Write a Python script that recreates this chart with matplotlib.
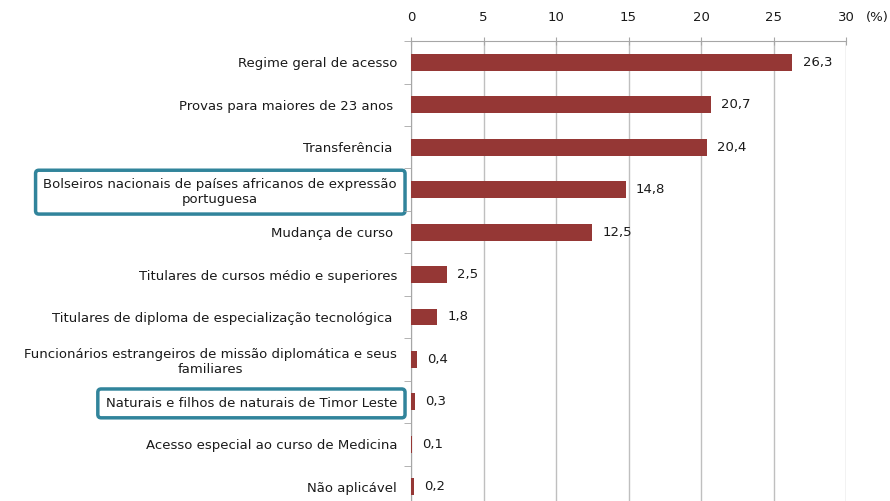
import numpy as np
import matplotlib.pyplot as plt

categories = [
    "Regime geral de acesso",
    "Provas para maiores de 23 anos ",
    "Transferência ",
    "Bolseiros nacionais de países africanos de expressão\nportuguesa",
    "Mudança de curso ",
    "Titulares de cursos médio e superiores",
    "Titulares de diploma de especialização tecnológica ",
    "Funcionários estrangeiros de missão diplomática e seus\nfamiliares",
    "Naturais e filhos de naturais de Timor Leste",
    "Acesso especial ao curso de Medicina",
    "Não aplicável",
]
values = [26.3, 20.7, 20.4, 14.8, 12.5, 2.5, 1.8, 0.4, 0.3, 0.1, 0.2]
highlighted = [3, 8]

bar_color = "#953735"
grid_color = "#BFBFBF"
box_color = "#31849B"

plt.rcParams["font.family"] = ["DejaVu Sans"]

fig = plt.figure(figsize=(8.9, 5.01), dpi=100)
ax = fig.add_axes([0.4618, -0.014, 0.4888, 0.932])

y = np.arange(len(categories))
ax.barh(y, values, height=0.4, color=bar_color, zorder=3)
for yi, v in zip(y, values):
    ax.text(v + 0.7, yi, f"{v:.1f}".replace(".", ","), va="center", ha="left",
            fontsize=9.5, color="#1a1a1a")

ax.set_xlim(0, 30)
ax.set_ylim(len(categories) - 0.5, -0.5)
ax.set_xticks(np.arange(0, 31, 5))
ax.xaxis.tick_top()
ax.tick_params(axis="x", direction="inout", length=6, color="#A6A6A6",
               labelsize=9.5, labelcolor="#1a1a1a", pad=9)
ax.grid(axis="x", color=grid_color, linewidth=1, zorder=0)

ax.set_yticks(y)
ax.set_yticklabels(categories, fontsize=9.5, color="#1a1a1a", ha="right",
                   multialignment="center")
ax.set_yticks(np.arange(-0.5, len(categories), 1), minor=True)
ax.tick_params(axis="y", which="major", length=0, pad=10)
ax.tick_params(axis="y", which="minor", length=5, color="#A6A6A6", direction="out")

for s in ["right", "bottom"]:
    ax.spines[s].set_visible(False)
for s in ["top", "left"]:
    ax.spines[s].set_color("#A6A6A6")

labels = ax.get_yticklabels()
for i in highlighted:
    labels[i].set_bbox(dict(boxstyle="round,pad=0.6,rounding_size=0.25",
                            facecolor="white", edgecolor=box_color, linewidth=2.5))

fig.text(877 / 890, 1 - 17 / 501, "(%)", fontsize=9.5, ha="center", va="center",
         color="#1a1a1a")

fig.savefig("out.png", dpi=100)
